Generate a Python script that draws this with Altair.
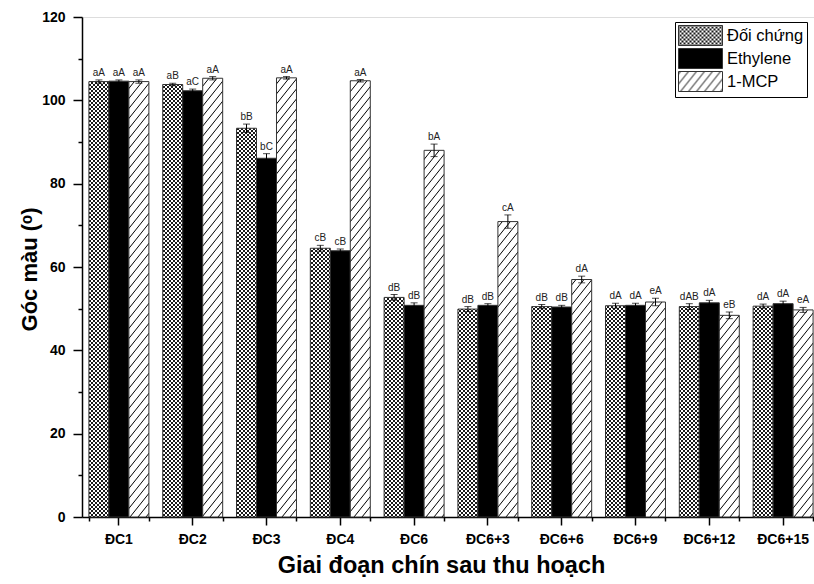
import altair as alt
import pandas as pd
import jinja2

# ---------------- data ----------------
stages = ["ĐC1", "ĐC2", "ĐC3", "ĐC4", "ĐC6", "ĐC6+3", "ĐC6+6", "ĐC6+9", "ĐC6+12", "ĐC6+15"]
series = ["Đối chứng", "Ethylene", "1-MCP"]

doi_chung = [104.5, 103.8, 93.3, 64.5, 52.7, 49.9, 50.5, 50.7, 50.5, 50.6]
ethylene = [104.6, 102.3, 86.1, 63.9, 50.8, 50.8, 50.4, 50.8, 51.4, 51.2]
mcp = [104.5, 105.3, 105.4, 104.7, 88.0, 70.9, 57.0, 51.6, 48.4, 49.7]

err_doi_chung = [0.4, 0.3, 1.0, 0.7, 0.7, 0.6, 0.5, 0.6, 0.7, 0.5]
err_ethylene = [0.3, 0.4, 1.1, 0.4, 0.6, 0.4, 0.4, 0.5, 0.6, 0.6]
err_mcp = [0.4, 0.4, 0.3, 0.3, 1.5, 1.6, 0.8, 0.9, 0.8, 0.6]

lab_doi_chung = ["aA", "aB", "bB", "cB", "dB", "dB", "dB", "dA", "dAB", "dA"]
lab_ethylene = ["aA", "aC", "bC", "cB", "dB", "dB", "dB", "dA", "dA", "dA"]
lab_mcp = ["aA", "aA", "aA", "aA", "bA", "cA", "dA", "eA", "eB", "eA"]

values = {"Đối chứng": doi_chung, "Ethylene": ethylene, "1-MCP": mcp}
errors = {"Đối chứng": err_doi_chung, "Ethylene": err_ethylene, "1-MCP": err_mcp}
labels = {"Đối chứng": lab_doi_chung, "Ethylene": lab_ethylene, "1-MCP": lab_mcp}

rows = []
for s in series:
    for i, st in enumerate(stages):
        v = values[s][i]
        e = errors[s][i]
        rows.append({"stage": st, "series": s, "value": v,
                     "lo": v - e, "hi": v + e, "letter": labels[s][i]})
df = pd.DataFrame(rows)

# ---------------- styling ----------------
TICK_FONT = "Liberation Sans"
TITLE_FONT = "Liberation Sans"
fills = ["url(#xhatch)", "#000000", "url(#diag)"]

xscale = alt.Scale(domain=stages, paddingInner=0.1875, paddingOuter=0.09375)
yscale = alt.Scale(domain=[0, 120], nice=False)
offset = alt.XOffset("series:N", sort=series,
                     scale=alt.Scale(domain=series, paddingInner=0, paddingOuter=0))

yaxis = alt.Axis(title="Góc màu (ᵒ)", values=list(range(0, 121, 10)),
                 labelExpr="datum.value % 20 === 0 ? datum.label : ''",
                 tickSize={"condition": {"test": "datum.value % 20 === 0", "value": 9}, "value": 4},
                 labelFont=TICK_FONT, labelFontSize=14, labelFontWeight="bold",
                 labelColor="black", labelPadding=8,
                 tickWidth=1.5, tickColor="black",
                 domainColor="black", domainWidth=1.5, grid=False,
                 titleFont=TITLE_FONT, titleFontSize=22, titleFontWeight="bold",
                 titleColor="black", titleX=-45.5, titleY=252,
                 titleBaseline="alphabetic", titleAlign="center")

base = alt.Chart(df)

bars = base.mark_bar(stroke="#333333", strokeWidth=1).encode(
    x=alt.X("stage:N", sort=stages, scale=xscale,
            axis=alt.Axis(title="Giai đoạn chín sau thu hoạch",
                          labelAngle=0, labelFont=TICK_FONT, labelFontSize=14,
                          labelFontWeight="bold", labelColor="black", labelPadding=7,
                          tickSize=8, tickWidth=1.5, tickColor="black",
                          domainColor="black", domainWidth=1.5,
                          titleFont=TITLE_FONT, titleFontSize=23.5, titleFontWeight="bold",
                          titleColor="black", titleX=359, titleY=55,
                          titleBaseline="alphabetic", titleAlign="center")),
    xOffset=offset,
    y=alt.Y("value:Q", scale=yscale, axis=yaxis),
    fill=alt.Fill("series:N", sort=series,
                  scale=alt.Scale(domain=series, range=fills),
                  legend=alt.Legend(title=None, orient="none", legendX=593, legendY=5,
                                    symbolType="M-1,-1H3.4V1H-1Z", symbolSize=400,
                                    symbolStrokeColor="#333333", symbolStrokeWidth=1,
                                    symbolOpacity=1,
                                    labelFont=TICK_FONT, labelFontSize=16.5, labelColor="black",
                                    labelOffset=28, rowPadding=-2, padding=3,
                                    strokeColor="black", cornerRadius=0)),
)

rules = base.mark_rule(color="black", strokeWidth=1).encode(
    x=alt.X("stage:N", sort=stages, scale=xscale,
            axis=alt.Axis(orient="bottom", tickBand="extent", labels=False, domain=False,
                          tickSize=4, tickWidth=1.5, tickColor="black", title=None)),
    xOffset=offset,
    y=alt.Y("lo:Q", scale=yscale, axis=yaxis),
    y2="hi:Q",
)

cap_lo = base.mark_tick(color="black", size=7, thickness=1).encode(
    x=alt.X("stage:N", sort=stages, scale=xscale, axis=None),
    xOffset=offset,
    y=alt.Y("lo:Q", scale=yscale, axis=yaxis),
)
cap_hi = base.mark_tick(color="black", size=7, thickness=1).encode(
    x=alt.X("stage:N", sort=stages, scale=xscale, axis=None),
    xOffset=offset,
    y=alt.Y("hi:Q", scale=yscale, axis=yaxis),
)

texts = base.mark_text(font=TICK_FONT, fontSize=10, color="#222222",
                       baseline="bottom", dy=-2).encode(
    x=alt.X("stage:N", sort=stages, scale=xscale, axis=None),
    xOffset=offset,
    y=alt.Y("hi:Q", scale=yscale, axis=yaxis),
    text="letter:N",
)

chart = alt.layer(bars, rules, cap_lo, cap_hi, texts).resolve_axis(
    x="independent"
).properties(
    width=738, height=500,
    autosize=alt.AutoSizeParams(type="none"),
    padding={"left": 74, "top": 9, "right": 0, "bottom": 62},
).configure_view(stroke="black", strokeWidth=1.5).configure(background="white")

TEMPLATE = jinja2.Template("""<!DOCTYPE html>
<html>
<head>
<meta charset="utf-8">
<style>
  html, body { overflow: hidden; }
  body { margin: 8px 0 0 8px; }
  #{{ output_div }}, #{{ output_div }}.vega-embed {
    display: block !important; width: max-content !important;
    overflow: visible !important;
  }
  #{{ output_div }} * { overflow: visible !important; }
  #{{ output_div }} svg { flex-shrink: 0; max-width: none; }
</style>
<script type="text/javascript" src="{{ base_url }}/vega@{{ vega_version }}"></script>
<script type="text/javascript" src="{{ base_url }}/vega-lite@{{ vegalite_version }}"></script>
<script type="text/javascript" src="{{ base_url }}/vega-embed@{{ vegaembed_version }}"></script>
</head>
<body>
<svg width="0" height="0" style="position:absolute">
  <defs>
    <pattern id="xhatch" patternUnits="userSpaceOnUse" width="4" height="4">
      <rect width="4" height="4" fill="white"/>
      <path d="M0,0L4,4M4,0L0,4" stroke="black" stroke-width="0.9"/>
    </pattern>
    <pattern id="diag" patternUnits="userSpaceOnUse" width="8" height="10">
      <rect width="8" height="10" fill="white"/>
      <path d="M0,10L8,0M-2,2.5L2,-2.5M6,12.5L10,7.5" stroke="black" stroke-width="1"/>
    </pattern>
  </defs>
</svg>
<div id="{{ output_div }}"></div>
<script type="text/javascript">
  (function(vegaEmbed) {
    var spec = {{ spec }};
    var embedOpt = {{ embed_options }};
    vegaEmbed("#{{ output_div }}", spec, embedOpt).catch(function(err) {
      document.getElementById("{{ output_div }}").innerHTML = "<pre>" + err + "</pre>";
    });
  })(vegaEmbed);
</script>
</body>
</html>
""")

chart.save("out.html", embed_options={"renderer": "svg", "actions": False}, template=TEMPLATE)
